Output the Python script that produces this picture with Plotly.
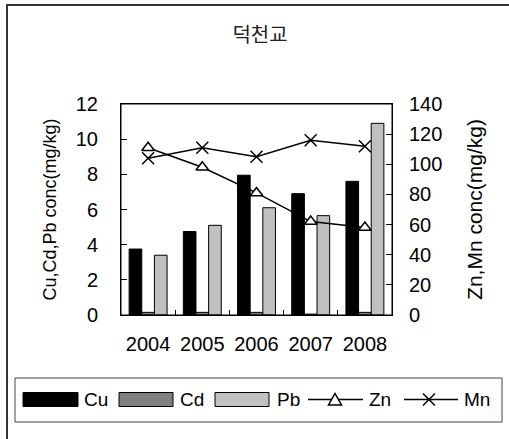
import plotly.graph_objects as go

# Annual heavy-metal concentrations at 덕천교
years = ["2004", "2005", "2006", "2007", "2008"]
cu = [3.75, 4.75, 7.95, 6.9, 7.6]
cd = [0.15, 0.15, 0.15, 0.05, 0.15]
pb = [3.4, 5.1, 6.1, 5.65, 10.9]
zn = [111, 98, 81, 62, 58]
mn = [104, 111, 105, 116, 112]

W, H = 509, 439
# plot area in pixels
PL, PR, PT, PB = 121, 392, 104, 315

def px(x):
    return (x - PL) / (PR - PL)

def py(y):
    return (PB - y) / (PB - PT)

FONT = "Liberation Sans, Arial, sans-serif"

fig = go.Figure()
fig.add_trace(go.Bar(x=years, y=cu, name="Cu", marker=dict(color="#000000", line=dict(color="#000000", width=1))))
fig.add_trace(go.Bar(x=years, y=cd, name="Cd", marker=dict(color="#808080", line=dict(color="#000000", width=1))))
fig.add_trace(go.Bar(x=years, y=pb, name="Pb", marker=dict(color="#c0c0c0", line=dict(color="#000000", width=1))))
fig.add_trace(go.Scatter(x=years, y=zn, name="Zn", yaxis="y2", mode="lines+markers",
                         line=dict(color="#000000", width=1.5),
                         marker=dict(symbol="triangle-up", size=11, color="#ffffff",
                                     line=dict(color="#000000", width=1.5))))
fig.add_trace(go.Scatter(x=years, y=mn, name="Mn", yaxis="y2", mode="lines+markers",
                         line=dict(color="#000000", width=1.5),
                         marker=dict(symbol="x-thin", size=12, color="#000000",
                                     line=dict(color="#000000", width=1.5))))

shapes = []
annotations = []

# outer chart frame (runs off the right and bottom edges)
shapes.append(dict(type="rect", xref="paper", yref="paper",
                   x0=px(7), x1=px(530), y0=py(5), y1=py(460),
                   line=dict(color="#333333", width=2), fillcolor="rgba(0,0,0,0)", layer="below"))

# plot area border
shapes.append(dict(type="rect", xref="paper", yref="paper", x0=0, x1=1, y0=0, y1=1,
                   line=dict(color="#000000", width=1), fillcolor="rgba(0,0,0,0)"))

# legend box
shapes.append(dict(type="rect", xref="paper", yref="paper",
                   x0=px(15), x1=px(502), y0=py(378), y1=py(422),
                   line=dict(color="#444444", width=1), fillcolor="rgba(0,0,0,0)"))

LY = 399.5
legend_bars = [("Cu", "#000000", 23, 78, 82), ("Cd", "#808080", 119, 173, 178), ("Pb", "#c0c0c0", 215, 269, 275)]
for name, col, x0, x1, tx in legend_bars:
    shapes.append(dict(type="rect", xref="paper", yref="paper",
                       x0=px(x0), x1=px(x1), y0=py(LY - 7), y1=py(LY + 7),
                       line=dict(color="#000000", width=1), fillcolor=col))
    annotations.append(dict(text=name, xref="paper", yref="paper", x=px(tx), y=py(LY),
                            xanchor="left", yanchor="middle", showarrow=False,
                            font=dict(family=FONT, size=19, color="#000000")))

# Zn legend entry: line with open triangle
shapes.append(dict(type="line", xref="paper", yref="paper", x0=px(308), x1=px(363),
                   y0=py(LY), y1=py(LY), line=dict(color="#000000", width=1.5)))
cx = 335
tri = "M {} {} L {} {} L {} {} Z".format(px(cx - 6.5), py(LY + 5.5), px(cx + 6.5), py(LY + 5.5), px(cx), py(LY - 6))
shapes.append(dict(type="path", xref="paper", yref="paper", path=tri,
                   fillcolor="#ffffff", line=dict(color="#000000", width=1.5)))
annotations.append(dict(text="Zn", xref="paper", yref="paper", x=px(367), y=py(LY),
                        xanchor="left", yanchor="middle", showarrow=False,
                        font=dict(family=FONT, size=19, color="#000000")))

# Mn legend entry: line with cross
shapes.append(dict(type="line", xref="paper", yref="paper", x0=px(404), x1=px(458),
                   y0=py(LY), y1=py(LY), line=dict(color="#000000", width=1.5)))
cx = 429
for dx in (-1, 1):
    shapes.append(dict(type="line", xref="paper", yref="paper",
                       x0=px(cx - 6), x1=px(cx + 6), y0=py(LY - 6 * dx), y1=py(LY + 6 * dx),
                       line=dict(color="#000000", width=1.5)))
annotations.append(dict(text="Mn", xref="paper", yref="paper", x=px(462), y=py(LY),
                        xanchor="left", yanchor="middle", showarrow=False,
                        font=dict(family=FONT, size=19, color="#000000")))

fig.update_layout(
    width=W, height=H,
    margin=dict(l=PL, r=W - PR, t=PT, b=H - PB, autoexpand=False),
    paper_bgcolor="#ffffff", plot_bgcolor="#ffffff",
    showlegend=False,
    barmode="group", bargap=0.3, bargroupgap=0,
    title=dict(text="덕천교", x=260 / W, y=1 - 34.5 / H, xanchor="center", yanchor="middle",
               font=dict(family="Noto Sans CJK KR", size=20, color="#222222")),
    font=dict(family=FONT, color="#000000"),
    xaxis=dict(type="category", showgrid=False, showline=True, linecolor="#000000", linewidth=1,
               mirror=True, ticks="inside", tickson="boundaries", ticklen=5, tickcolor="#000000",
               tickfont=dict(family=FONT, size=20), ticklabelstandoff=11),
    yaxis=dict(range=[0, 12], dtick=2, showgrid=False, zeroline=False, showline=True,
               linecolor="#000000", linewidth=1, ticks="inside", ticklen=6, tickcolor="#000000",
               tickfont=dict(family=FONT, size=20), ticklabelstandoff=18,
               title=dict(text="Cu,Cd,Pb conc(mg/kg)", font=dict(family=FONT, size=18), standoff=14)),
    yaxis2=dict(range=[0, 140], dtick=20, overlaying="y", side="right", showgrid=False,
                zeroline=False, showline=True, linecolor="#000000", linewidth=1,
                ticks="inside", ticklen=6, tickcolor="#000000",
                tickfont=dict(family=FONT, size=20), ticklabelstandoff=12,
                title=dict(text="Zn,Mn conc(mg/kg)", font=dict(family=FONT, size=21), standoff=25)),
    shapes=shapes,
    annotations=annotations,
)

fig.write_html("out.html")
